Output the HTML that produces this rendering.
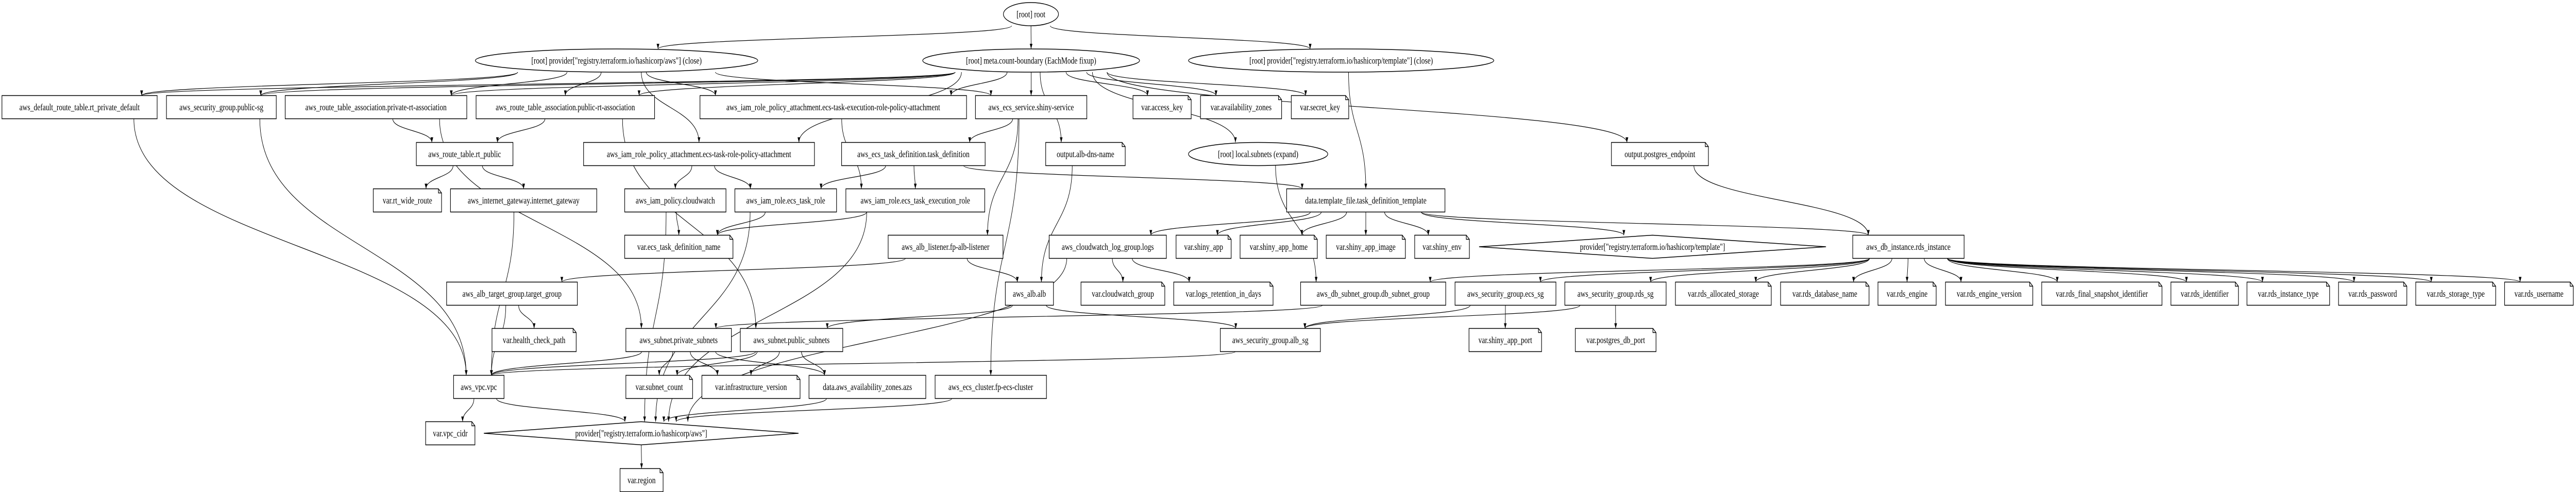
<!DOCTYPE html>
<html><head><meta charset="utf-8"><style>
html,body{margin:0;padding:0;background:#fff;overflow:hidden;width:100vw;height:100vh;}
svg{display:block;width:100vw;height:100vh;}
text{font-family:"Liberation Serif",serif;font-size:18px;text-anchor:middle;fill:#000;}
</style></head><body>
<svg id="g" viewBox="0 0 6639 955" preserveAspectRatio="none" xmlns="http://www.w3.org/2000/svg">
<defs><marker id="ah" viewBox="0 0 10 10" refX="10" refY="5" markerWidth="10" markerHeight="10" markerUnits="userSpaceOnUse" orient="auto"><path d="M0,1.5 L10,5 L0,8.5 z" fill="#000"/></marker></defs>
<g id="edges" fill="none" stroke="#000" stroke-width="1.2"></g>
<g id="shapes" fill="#fff" stroke="#000" stroke-width="1.5"></g>
<g id="labels">
<text x="2657" y="33.5">[root] root</text>
<text x="1589" y="123.5">[root] provider["registry.terraform.io/hashicorp/aws"] (close)</text>
<text x="2657.5" y="123.5">[root] meta.count-boundary (EachMode fixup)</text>
<text x="3456.5" y="123.5">[root] provider["registry.terraform.io/hashicorp/template"] (close)</text>
<text x="205" y="214">aws_default_route_table.rt_private_default</text>
<text x="570.5" y="214">aws_security_group.public-sg</text>
<text x="969" y="214">aws_route_table_association.private-rt-association</text>
<text x="1457" y="214">aws_route_table_association.public-rt-association</text>
<text x="2147.5" y="214">aws_iam_role_policy_attachment.ecs-task-execution-role-policy-attachment</text>
<text x="2657.5" y="214">aws_ecs_service.shiny-service</text>
<text x="2995" y="214">var.access_key</text>
<text x="3198.5" y="214">var.availability_zones</text>
<text x="3402" y="214">var.secret_key</text>
<text x="1197.5" y="305">aws_route_table.rt_public</text>
<text x="1801.5" y="305">aws_iam_role_policy_attachment.ecs-task-role-policy-attachment</text>
<text x="2354" y="305">aws_ecs_task_definition.task_definition</text>
<text x="2797.5" y="305">output.alb-dns-name</text>
<text x="3242.5" y="305">[root] local.subnets (expand)</text>
<text x="4278" y="305">output.postgres_endpoint</text>
<text x="1050" y="395">var.rt_wide_route</text>
<text x="1349.5" y="395">aws_internet_gateway.internet_gateway</text>
<text x="1740.5" y="395">aws_iam_policy.cloudwatch</text>
<text x="2025" y="395">aws_iam_role.ecs_task_role</text>
<text x="2359" y="395">aws_iam_role.ecs_task_execution_role</text>
<text x="3520" y="395">data.template_file.task_definition_template</text>
<text x="1749.5" y="485">var.ecs_task_definition_name</text>
<text x="2437" y="485">aws_alb_listener.fp-alb-listener</text>
<text x="2855" y="485">aws_cloudwatch_log_group.logs</text>
<text x="3102" y="485">var.shiny_app</text>
<text x="3295.5" y="485">var.shiny_app_home</text>
<text x="3520" y="485">var.shiny_app_image</text>
<text x="3716.5" y="485">var.shiny_env</text>
<text x="4259" y="485">provider["registry.terraform.io/hashicorp/template"]</text>
<text x="4918.5" y="485">aws_db_instance.rds_instance</text>
<text x="1319.5" y="576">aws_alb_target_group.target_group</text>
<text x="2653" y="576">aws_alb.alb</text>
<text x="2894" y="576">var.cloudwatch_group</text>
<text x="3153" y="576">var.logs_retention_in_days</text>
<text x="3539" y="576">aws_db_subnet_group.db_subnet_group</text>
<text x="3880" y="576">aws_security_group.ecs_sg</text>
<text x="4163.5" y="576">aws_security_group.rds_sg</text>
<text x="4441.5" y="576">var.rds_allocated_storage</text>
<text x="4703" y="576">var.rds_database_name</text>
<text x="4915" y="576">var.rds_engine</text>
<text x="5126.5" y="576">var.rds_engine_version</text>
<text x="5417" y="576">var.rds_final_snapshot_identifier</text>
<text x="5682" y="576">var.rds_identifier</text>
<text x="5897.5" y="576">var.rds_instance_type</text>
<text x="6115" y="576">var.rds_password</text>
<text x="6329" y="576">var.rds_storage_type</text>
<text x="6543.5" y="576">var.rds_username</text>
<text x="1376.5" y="666">var.health_check_path</text>
<text x="1749" y="666">aws_subnet.private_subnets</text>
<text x="2040" y="666">aws_subnet.public_subnets</text>
<text x="3274" y="666">aws_security_group.alb_sg</text>
<text x="3879.5" y="666">var.shiny_app_port</text>
<text x="4164" y="666">var.postgres_db_port</text>
<text x="1234" y="757">aws_vpc.vpc</text>
<text x="1699" y="757">var.subnet_count</text>
<text x="1935.5" y="757">var.infrastructure_version</text>
<text x="2235.5" y="757">data.aws_availability_zones.azs</text>
<text x="2553.5" y="757">aws_ecs_cluster.fp-ecs-cluster</text>
<text x="1160.5" y="847">var.vpc_cidr</text>
<text x="1652.5" y="847">provider["registry.terraform.io/hashicorp/aws"]</text>
<text x="1653.5" y="938">var.region</text>
</g>
</svg>
<script>
var R=[27.5,117.5,208,299,389,479,570,660,751,841,932];
var N={
root:[2586,2728,0,'e'],pclose:[1225,1953,1,'e'],meta:[2378,2937,1,'e'],tclose:[3063,3850,1,'e'],
rtpd:[5,405,2,'b'],psg:[429,712,2,'b'],prta:[735,1203,2,'b'],pubrta:[1227,1687,2,'b'],iamexa:[1804,2491,2,'b'],ecssvc:[2514,2801,2,'b'],accesskey:[2920,3070,2,'n'],az:[3094,3303,2,'n'],secret:[3328,3476,2,'n'],
rtpub:[1073,1322,3,'b'],iamta:[1504,2099,3,'b'],taskdef:[2169,2539,3,'b'],albdns:[2695,2900,3,'n'],localsub:[3063,3422,3,'e'],pgend:[4153,4403,3,'n'],
rtwide:[962,1138,4,'n'],igw:[1161,1538,4,'b'],cwpol:[1610,1871,4,'b'],taskrole:[1894,2156,4,'b'],execrole:[2180,2538,4,'b'],tmpl:[3316,3724,4,'b'],
ecsname:[1610,1889,5,'n'],listener:[2289,2585,5,'b'],loggrp:[2704,3006,5,'b'],shinyapp:[3031,3173,5,'n'],shinyhome:[3196,3395,5,'n'],shinyimg:[3418,3622,5,'n'],shinyenv:[3646,3787,5,'n'],ptmpl:[3812,4706,5,'d'],rds:[4775,5062,5,'b'],
tg:[1151,1488,6,'b'],alb:[2591,2715,6,'b'],cwgroup:[2786,3002,6,'n'],logret:[3025,3281,6,'n'],dbsub:[3352,3726,6,'b'],ecssg:[3750,4010,6,'b'],rdssg:[4033,4294,6,'b'],
allocated:[4318,4565,6,'n'],dbname:[4589,4817,6,'n'],engine:[4840,4990,6,'n'],engver:[5014,5239,6,'n'],fin:[5262,5572,6,'n'],ident:[5595,5769,6,'n'],insttype:[5791,6004,6,'n'],password:[6027,6203,6,'n'],storage:[6226,6432,6,'n'],username:[6455,6632,6,'n'],
hcp:[1268,1485,7,'n'],privsub:[1613,1885,7,'b'],pubsub:[1908,2172,7,'b'],albsg:[3145,3403,7,'b'],appport:[3786,3973,7,'n'],dbport:[4060,4268,7,'n'],
vpc:[1169,1299,8,'b'],subcount:[1613,1785,8,'n'],infra:[1809,2062,8,'n'],azs:[2085,2386,8,'b'],cluster:[2410,2697,8,'b'],
vpccidr:[1097,1224,9,'n'],paws:[1247,2058,9,'d'],region:[1598,1709,10,'n']};
var NS='http://www.w3.org/2000/svg';
function el(t,a,p){var e=document.createElementNS(NS,t);for(var k in a)e.setAttribute(k,a[k]);p.appendChild(e);return e;}
var S=document.getElementById('shapes'),E=document.getElementById('edges');
for(var k in N){var n=N[k],x1=n[0],x2=n[1],cy=R[n[2]],t=n[3],y1=cy-22.5,y2=cy+22.5;
 if(t=='e')el('ellipse',{cx:(x1+x2)/2,cy:cy,rx:(x2-x1)/2,ry:22.5},S);
 else if(t=='d')el('polygon',{points:x1+','+cy+' '+(x1+x2)/2+','+y1+' '+x2+','+cy+' '+(x1+x2)/2+','+y2},S);
 else if(t=='n'){el('polygon',{points:x1+','+y1+' '+(x2-8)+','+y1+' '+x2+','+(y1+8)+' '+x2+','+y2+' '+x1+','+y2},S);el('polyline',{points:(x2-8)+','+y1+' '+(x2-8)+','+(y1+8)+' '+x2+','+(y1+8),fill:'none'},S);}
 else el('rect',{x:x1,y:y1,width:x2-x1,height:45},S);}
var ED=[['root','pclose'],['root','meta'],['root','tclose'],
['pclose','rtpd'],['pclose','psg'],['pclose','prta'],['pclose','pubrta'],['pclose','iamta'],['pclose','iamexa'],['pclose','ecssvc'],
['meta','rtpd'],['meta','psg'],['meta','prta'],['meta','pubrta'],['meta','iamta'],['meta','iamexa'],['meta','ecssvc'],['meta','accesskey'],['meta','az'],['meta','secret'],['meta','albdns'],['meta','localsub'],['meta','pgend'],
['tclose','tmpl'],['rtpd','vpc'],['psg','vpc'],['prta','rtpub'],['prta','privsub'],['pubrta','rtpub'],['pubrta','pubsub'],
['rtpub','rtwide'],['rtpub','igw'],['igw','vpc'],['iamta','cwpol'],['iamta','taskrole'],['iamexa','execrole'],
['ecssvc','taskdef'],['ecssvc','listener'],['ecssvc','cluster'],['taskdef','taskrole'],['taskdef','execrole'],['taskdef','tmpl'],
['cwpol','ecsname'],['cwpol','paws'],['taskrole','ecsname'],['execrole','ecsname'],['execrole','paws'],['taskrole','paws'],
['listener','tg'],['listener','alb'],['albdns','alb'],
['tmpl','loggrp'],['tmpl','shinyapp'],['tmpl','shinyhome'],['tmpl','shinyimg'],['tmpl','shinyenv'],['tmpl','ptmpl'],['tmpl','rds'],
['loggrp','cwgroup'],['loggrp','logret'],['loggrp','paws'],['localsub','dbsub'],['pgend','rds'],
['rds','dbsub'],['rds','ecssg'],['rds','rdssg'],['rds','allocated'],['rds','dbname'],['rds','engine'],['rds','engver'],['rds','fin'],['rds','ident'],['rds','insttype'],['rds','password'],['rds','storage'],['rds','username'],
['tg','hcp'],['tg','vpc'],['alb','pubsub'],['alb','albsg'],['dbsub','privsub'],['albsg','vpc'],['ecssg','albsg'],['rdssg','albsg'],['ecssg','appport'],['rdssg','dbport'],
['privsub','vpc'],['privsub','subcount'],['privsub','infra'],['privsub','azs'],['pubsub','vpc'],['pubsub','subcount'],['pubsub','infra'],['pubsub','azs'],
['vpc','vpccidr'],['vpc','paws'],['azs','paws'],['cluster','paws'],['paws','region']];
for(var i=0;i<ED.length;i++){var a=N[ED[i][0]],b=N[ED[i][1]];
 var ax=(a[0]+a[1])/2,bx=(b[0]+b[1])/2,ay=R[a[2]]+22.5,by=R[b[2]]-22.5;
 var bw=(b[1]-b[0])/2,tx;
 if(ax<b[0])tx=b[0]+Math.min(bw*0.5,40);else if(ax>b[1])tx=b[1]-Math.min(bw*0.5,40);else tx=bx;
 if(b[3]=='e'||b[3]=='d')tx=bx+(ax-bx)*0.1;
 var aw=(a[1]-a[0])/2;var sx=ax+Math.max(-aw*0.7,Math.min(aw*0.7,(tx-ax)*0.3));
 var m=(ay+by)/2;
 el('path',{d:'M'+sx+','+ay+' C'+sx+','+m+' '+tx+','+m+' '+tx+','+by,'marker-end':'url(#ah)'},E);}
</script>
</body></html>
